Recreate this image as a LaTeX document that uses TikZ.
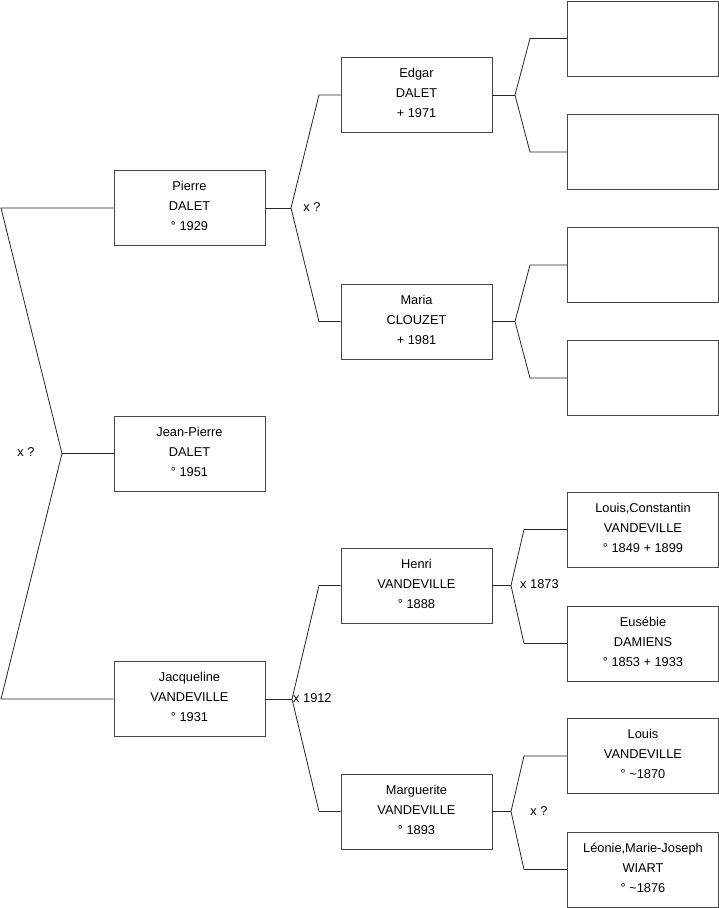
\documentclass[tikz,border=0pt]{standalone}
\usepackage{fontspec}
\setmainfont{Liberation Sans}
\definecolor{boxline}{RGB}{70,70,70}
\begin{document}
\begin{tikzpicture}[x=1pt,y=-1pt,
  person/.style={draw=boxline, line width=0.9pt, minimum width=151pt, minimum height=75pt,
    inner sep=0pt, align=center, font=\fontsize{12.8}{20}\selectfont,
    execute at end node={\rule[-4pt]{0pt}{0pt}}},
  link/.style={draw=black!85, line width=0.8pt},
  lbl/.style={font=\fontsize{12.8}{14}\selectfont, inner sep=0pt}]
\useasboundingbox (0,0) rectangle (719,908);
% level 1
\node[person] (pierre) at (189.5,208) {Pierre\\DALET\\° 1929};
\node[person] (jp) at (189.5,453.5) {Jean-Pierre\\DALET\\° 1951};
\node[person] (jac) at (189.5,699) {Jacqueline\\VANDEVILLE\\° 1931};
% level 2
\node[person] (edgar) at (416.5,95) {Edgar\\DALET\\ + 1971};
\node[person] (maria) at (416.5,321.5) {Maria\\CLOUZET\\ + 1981};
\node[person] (henri) at (416.5,585.5) {Henri\\VANDEVILLE\\° 1888};
\node[person] (marg) at (416.5,811.5) {Marguerite\\VANDEVILLE\\° 1893};
% level 3
\node[person] (b1) at (643,38.5) {};
\node[person] (b2) at (643,152) {};
\node[person] (b3) at (643,265) {};
\node[person] (b4) at (643,378) {};
\node[person] (lc) at (643,529.5) {Louis,Constantin\\VANDEVILLE\\° 1849 + 1899};
\node[person] (eus) at (643,643.5) {Eusébie\\DAMIENS\\° 1853 + 1933};
\node[person] (louis) at (643,756) {Louis\\VANDEVILLE\\° \textasciitilde1870};
\node[person] (leo) at (643,869.5) {Léonie,Marie-Joseph\\WIART\\° \textasciitilde1876};
% root bracket
\coordinate (r1) at (1,208);
\coordinate (rv) at (62,453.5);
\coordinate (r2) at (1,699);
\draw[link] (pierre.west) -- (r1) -- (rv) -- (r2) -- (jac.west);
\draw[link] (rv) -- (jp.west);
\node[lbl] (l0) at (26,452) {x ?};
% Pierre bracket
\coordinate (pv) at (291,208);
\coordinate (pe1) at (319,95);
\coordinate (pe2) at (319,321.5);
\draw[link] (pierre.east) -- (pv);
\draw[link] (edgar.west) -- (pe1) -- (pv) -- (pe2) -- (maria.west);
\node[lbl] (l1) at (312,207) {x ?};
% Jacqueline bracket
\coordinate (jv) at (292,699);
\coordinate (je1) at (319,585.5);
\coordinate (je2) at (319,811.5);
\draw[link] (jac.east) -- (jv);
\draw[link] (henri.west) -- (je1) -- (jv) -- (je2) -- (marg.west);
\node[lbl, anchor=west] (l2) at (293,698) {x 1912};
% Edgar bracket
\coordinate (ev) at (515,95);
\coordinate (ee1) at (530,38.5);
\coordinate (ee2) at (530,152);
\draw[link] (edgar.east) -- (ev);
\draw[link] (b1.west) -- (ee1) -- (ev) -- (ee2) -- (b2.west);
% Maria bracket
\coordinate (mv) at (515,321.5);
\coordinate (me1) at (530,265);
\coordinate (me2) at (530,378);
\draw[link] (maria.east) -- (mv);
\draw[link] (b3.west) -- (me1) -- (mv) -- (me2) -- (b4.west);
% Henri bracket
\coordinate (hv) at (511,585.5);
\coordinate (he1) at (524,529.5);
\coordinate (he2) at (524,643.5);
\draw[link] (henri.east) -- (hv);
\draw[link] (lc.west) -- (he1) -- (hv) -- (he2) -- (eus.west);
\node[lbl, anchor=west] (l3) at (520,584) {x 1873};
% Marguerite bracket
\coordinate (gv) at (511,811.5);
\coordinate (ge1) at (524,756);
\coordinate (ge2) at (524,869.5);
\draw[link] (marg.east) -- (gv);
\draw[link] (louis.west) -- (ge1) -- (gv) -- (ge2) -- (leo.west);
\node[lbl] (l4) at (539,811) {x ?};
\end{tikzpicture}
\end{document}
